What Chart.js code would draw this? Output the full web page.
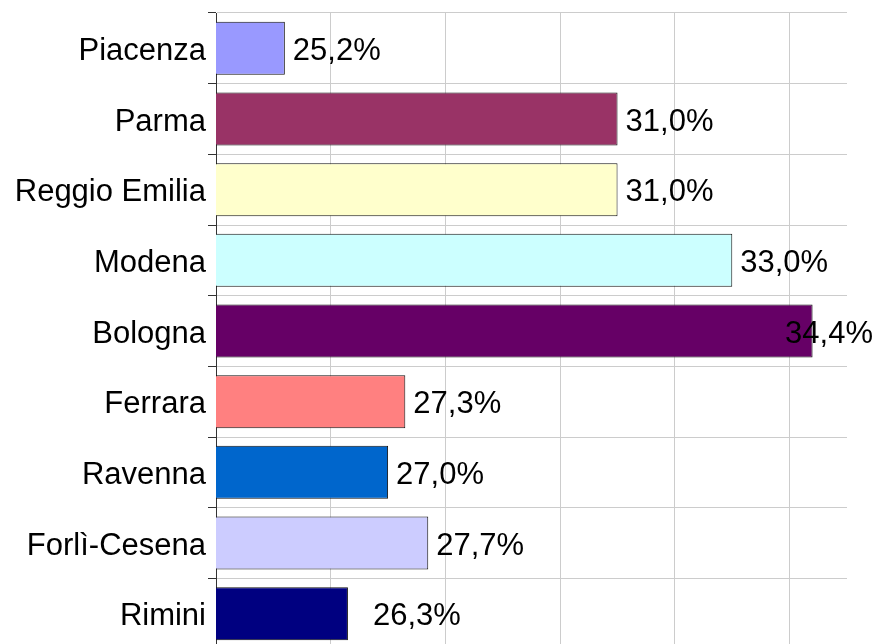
<!DOCTYPE html>
<html>
<head>
<meta charset="utf-8">
<script src="https://cdn.jsdelivr.net/npm/chart.js@4/dist/chart.umd.min.js"></script>
<style>
  html, body { margin: 0; padding: 0; background: #ffffff; overflow: hidden; }
  #wrap { position: relative; width: 878px; height: 660px; }
</style>
</head>
<body>
<div id="wrap"><canvas id="c"></canvas></div>
<script>
// ---- data ----
const categories = ['Piacenza', 'Parma', 'Reggio Emilia', 'Modena', 'Bologna', 'Ferrara', 'Ravenna', 'Forlì-Cesena', 'Rimini'];
const values = [25.2, 31.0, 31.0, 33.0, 34.4, 27.3, 27.0, 27.7, 26.3];
const valueLabels = ['25,2%', '31,0%', '31,0%', '33,0%', '34,4%', '27,3%', '27,0%', '27,7%', '26,3%'];
const barColors = ['#9999FF', '#993366', '#FFFFCC', '#CCFFFF', '#660066', '#FF8080', '#0066CC', '#CCCCFF', '#000080'];
const axisMin = 24;
const axisMax = 35;
const axisStep = 2;

// ---- styling ----
const FONT = '"Liberation Sans", Arial, sans-serif';
const FONT_SIZE = 31;
const labelExtraShift = [0, 0, 0, 0, 0, 0, 0, 0, 17];

const valueLabelPlugin = {
  id: 'valueLabels',
  afterDatasetsDraw(chart) {
    const ctx = chart.ctx;
    const meta = chart.getDatasetMeta(0);
    ctx.save();
    ctx.font = FONT_SIZE + 'px ' + FONT;
    ctx.fillStyle = '#000000';
    ctx.textBaseline = 'middle';
    ctx.textAlign = 'left';
    meta.data.forEach((bar, i) => {
      const text = valueLabels[i];
      const w = ctx.measureText(text).width;
      let x = bar.x + 8 + labelExtraShift[i];
      if (x + w > chart.width - 5) x = chart.width - 5 - w;
      ctx.fillText(text, x, bar.y + 3);
    });
    ctx.restore();
  }
};

new Chart(document.getElementById('c'), {
  type: 'bar',
  data: {
    labels: categories,
    datasets: [{
      data: values,
      backgroundColor: barColors,
      borderColor: '#111111',
      borderWidth: 1,
      borderSkipped: false,
      barPercentage: 0.75,
      categoryPercentage: 1.0
    }]
  },
  options: {
    indexAxis: 'y',
    responsive: true,
    maintainAspectRatio: false,
    animation: false,
    layout: { padding: { top: 13, right: 31, bottom: 11, left: 0 } },
    plugins: {
      legend: { display: false },
      tooltip: { enabled: false }
    },
    scales: {
      x: {
        min: axisMin,
        max: axisMax,
        ticks: { display: false, stepSize: axisStep },
        grid: {
          drawTicks: false,
          color: (c) => (c.tick && c.tick.value === axisMax) ? 'rgba(0,0,0,0)' : '#cccccc',
          lineWidth: 1
        },
        border: { display: false },
        afterFit: (s) => { s.height = 0; s.paddingLeft = 0; s.paddingRight = 0; }
      },
      y: {
        ticks: {
          color: '#000000',
          font: { family: FONT, size: FONT_SIZE },
          padding: 2,
          labelOffset: 3
        },
        grid: {
          color: '#cccccc',
          tickColor: '#333333',
          tickLength: 8,
          lineWidth: 1
        },
        border: { display: true, color: '#333333', width: 1 },
        afterFit: (s) => { s.width = 216; s.paddingTop = 0; s.paddingBottom = 0; }
      }
    }
  },
  plugins: [valueLabelPlugin]
});
</script>
</body>
</html>
